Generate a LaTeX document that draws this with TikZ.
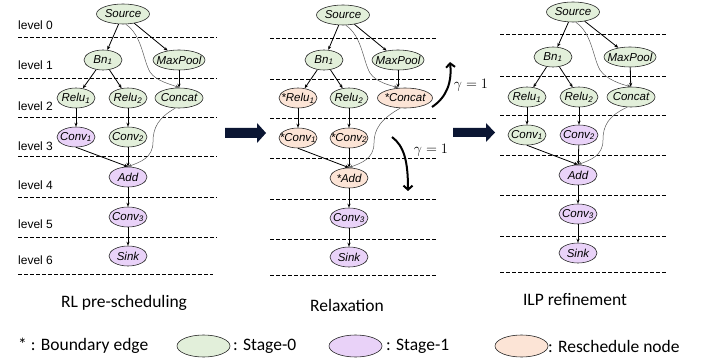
\documentclass[tikz,border=0pt]{standalone}
\usepackage{fontspec}
\setmainfont{Liberation Sans}
\newfontfamily\calib{Carlito}
\usetikzlibrary{shapes.geometric,arrows.meta}
\definecolor{grn}{HTML}{E2EFDA}
\definecolor{pur}{HTML}{E9D2F8}
\definecolor{org}{HTML}{FCE4D6}
\definecolor{navy}{HTML}{0B1633}
\newcommand\nt[1]{\makebox[0pt]{\itshape #1}}
\newcommand\sbs[1]{\textsubscript{#1}}
\begin{document}
\begin{tikzpicture}[x=1pt,y=-1pt,
  nd/.style={ellipse,draw=black!85,line width=0.6pt,inner sep=0pt,minimum width=38pt,minimum height=20pt,font=\fontsize{11.5}{12}\selectfont},
  stgzero/.style={nd,fill=grn},
  stgone/.style={nd,fill=pur},
  resch/.style={nd,fill=org},
  lvl/.style={dash pattern=on 3.5pt off 2.5pt,line width=0.7pt},
  ed/.style={-{Stealth[length=4pt,width=3.2pt]},line width=0.8pt},
  gr/.style={-{Stealth[length=4pt,width=3.2pt]},line width=0.5pt,draw=black!65},
  lvltxt/.style={anchor=west,font=\fontsize{12}{14}\selectfont,inner sep=0pt},
  captxt/.style={font=\calib\fontsize{17.5}{20}\selectfont,inner sep=0pt},
  gam/.style={line width=2pt,-{Straight Barb[length=4pt,width=9pt]}},
  blk/.style={fill=navy}]
\useasboundingbox (0,0) rectangle (701,358);

% level labels
\foreach \i/\y in {0/25,1/65,2/106,3/146,4/185,5/224,6/260}
  \node[lvltxt] (lv\i) at (18,\y) {level \i};

% ---------- panel 1 ----------
\foreach \y in {37,78,117,156,197,237} \draw[lvl] (18,\y) -- (217,\y);
\draw[lvl] (18,274) -- (213,274);
\node[stgzero,minimum width=53pt] (asrc) at (123,14) {\nt{Source}};
\node[stgzero] (abn) at (103,60) {\nt{Bn\sbs1}};
\node[stgzero,minimum width=52pt] (amp) at (179,60) {\nt{MaxPool}};
\node[stgzero] (ar1) at (76,98) {\nt{Relu\sbs1}};
\node[stgzero] (ar2) at (128,98) {\nt{Relu\sbs2}};
\node[stgzero,minimum width=48pt] (acc) at (179,98) {\nt{Concat}};
\node[stgone] (ac1) at (76,137) {\nt{Conv\sbs1}};
\node[stgzero] (ac2) at (128,137) {\nt{Conv\sbs2}};
\node[stgone] (aadd) at (128,177) {\nt{Add}};
\node[stgone] (ac3) at (128,217) {\nt{Conv\sbs3}};
\node[stgone] (ask) at (128,256) {\nt{Sink}};
\draw[ed] (asrc) -- (abn);
\draw[ed] (asrc) -- (amp);
\draw[ed] (abn) -- (ar1);
\draw[ed] (abn) -- (ar2);
\draw[ed] (amp) -- (acc);
\draw[ed] (ar1) -- (ac1);
\draw[ed] (ar2) -- (ac2);
\draw[ed] (ac1.south) -- (aadd.north);
\draw[ed] (ac2) -- (aadd);
\draw[ed] (aadd) -- (ac3);
\draw[ed] (ac3) -- (ask);
\draw[gr] (asrc.-75) .. controls (142,35) and (143,60) .. (150,72) .. controls (156,81) and (170,84) .. (acc.north);
\draw[gr] (acc.-110) .. controls (158,118) and (153,128) .. (153,142) .. controls (153,158) and (140,162) .. (aadd.north);

% ---------- panel 2 ----------
\begin{scope}[shift={(221,1)}]
\foreach \y in {37,78,117,157,198,238,274} \draw[lvl] (49,\y) -- (216,\y);
\node[stgzero,minimum width=53pt] (bsrc) at (122,14) {\nt{Source}};
\node[stgzero] (bbn) at (103,59) {\nt{Bn\sbs1}};
\node[stgzero,minimum width=52pt] (bmp) at (177,59) {\nt{MaxPool}};
\node[resch] (br1) at (77,97) {\nt{*Relu\sbs1}};
\node[stgzero] (br2) at (128,97) {\nt{Relu\sbs2}};
\node[resch,minimum width=55pt] (bcc) at (184,97) {\nt{*Concat}};
\node[resch] (bc1) at (77,137) {\nt{*Conv\sbs1}};
\node[resch] (bc2) at (128,137) {\nt{*Conv\sbs2}};
\node[resch] (badd) at (128,177) {\nt{*Add}};
\node[stgone] (bc3) at (128,217) {\nt{Conv\sbs3}};
\node[stgone] (bsk) at (128,256) {\nt{Sink}};
\draw[ed] (bsrc) -- (bbn);
\draw[ed] (bsrc) -- (bmp);
\draw[ed] (bbn) -- (br1);
\draw[ed] (bbn) -- (br2);
\draw[ed] (bmp) -- (bmp |- bcc.north);
\draw[ed] (br1) -- (bc1);
\draw[ed] (br2) -- (bc2);
\draw[ed] (bc1.south) -- (badd.north);
\draw[ed] (bc2) -- (badd);
\draw[ed] (badd) -- (bc3);
\draw[ed] (bc3) -- (bsk);
\draw[gr] (bsrc.-75) .. controls (141,35) and (142,60) .. (149,72) .. controls (155,81) and (168,84) .. (bcc.north -| bmp);
\draw[gr] (bcc.-115) .. controls (160,118) and (153,128) .. (153,142) .. controls (153,158) and (140,162) .. (badd.north);
\coordinate (upA) at (211,106);
\coordinate (upB) at (229,61);
\coordinate (dnA) at (171,136);
\coordinate (dnB) at (187,190);
\draw[gam] (upA) .. controls (226,96) and (231,81) .. (upB);
\draw[gam] (dnA) .. controls (183,145) and (187,160) .. (dnB);
\node[font=\fontsize{13.5}{15}\selectfont,inner sep=0pt] (gup) at (250,84) {$\gamma = 1$};
\node[font=\fontsize{13.5}{15}\selectfont,inner sep=0pt] (gdn) at (210,149) {$\gamma = 1$};
\end{scope}

% ---------- panel 3 ----------
\begin{scope}[shift={(450,-2)}]
\foreach \y in {36,78,117,157,197,238,274} \draw[lvl] (50,\y) -- (216,\y);
\node[stgzero,minimum width=53pt] (csrc) at (123,14) {\nt{Source}};
\node[stgzero] (cbn) at (103,59) {\nt{Bn\sbs1}};
\node[stgzero,minimum width=52pt] (cmp) at (180,59) {\nt{MaxPool}};
\node[stgzero] (cr1) at (77,99) {\nt{Relu\sbs1}};
\node[stgzero] (cr2) at (129,99) {\nt{Relu\sbs2}};
\node[stgzero,minimum width=48pt] (ccc) at (181,99) {\nt{Concat}};
\node[stgzero] (cc1) at (77,137) {\nt{Conv\sbs1}};
\node[stgone] (cc2) at (129,137) {\nt{Conv\sbs2}};
\node[stgone] (cadd) at (128,177) {\nt{Add}};
\node[stgone] (cc3) at (128,216) {\nt{Conv\sbs3}};
\node[stgone] (csk) at (128,255) {\nt{Sink}};
\draw[ed] (csrc) -- (cbn);
\draw[ed] (csrc) -- (cmp);
\draw[ed] (cbn) -- (cr1);
\draw[ed] (cbn) -- (cr2);
\draw[ed] (cmp) -- (ccc);
\draw[ed] (cr1) -- (cc1);
\draw[ed] (cr2) -- (cc2);
\draw[ed] (cc1.south) -- (cadd.north);
\draw[ed] (cc2) -- (cadd);
\draw[ed] (cadd) -- (cc3);
\draw[ed] (cc3) -- (csk);
\draw[gr] (csrc.-75) .. controls (142,35) and (143,60) .. (150,72) .. controls (156,81) and (170,86) .. (ccc.north);
\draw[gr] (ccc.-110) .. controls (158,118) and (153,128) .. (153,142) .. controls (153,158) and (140,162) .. (cadd.north);
\end{scope}

% block arrows between panels
\fill[blk] (225,128) -- (257,128) -- (257,123) -- (266,133) -- (257,143) -- (257,138) -- (225,138) -- cycle;
\fill[blk] (453,128) -- (486,128) -- (486,123) -- (495,132.5) -- (486,142) -- (486,137) -- (453,137) -- cycle;

% captions
\node[captxt] (t1) at (124,303) {RL pre-scheduling};
\node[captxt] (t2) at (347,305) {Relaxation};
\node[captxt] (t3) at (575,300) {ILP refinement};

% legend
\node[captxt,anchor=west] (l0) at (18,346) {* : Boundary edge};
\node[stgzero,minimum width=53pt,minimum height=22pt] (lg) at (203.5,346) {};
\node[captxt,anchor=west] (l1) at (233,346) {: Stage-0};
\node[stgone,minimum width=53pt,minimum height=22pt] (lp) at (355.5,346) {};
\node[captxt,anchor=west] (l2) at (386,346) {: Stage-1};
\node[resch,minimum width=53pt,minimum height=22pt] (lo) at (521.5,346) {};
\node[captxt,anchor=west] (l3) at (548,346) {: Reschedule node};
\end{tikzpicture}
\end{document}
